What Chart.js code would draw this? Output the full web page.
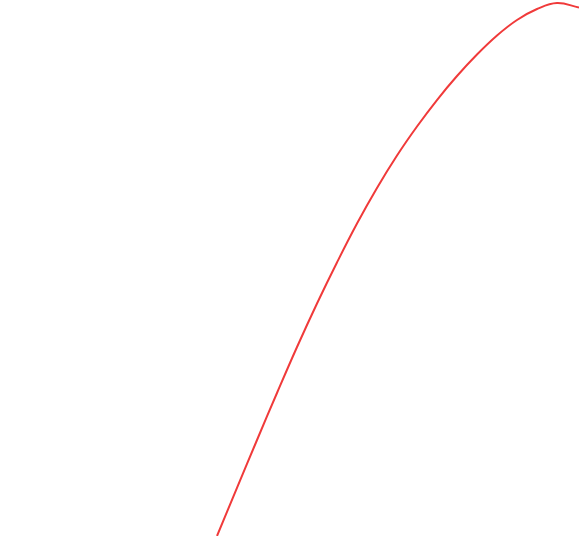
<!DOCTYPE html>
<html>
<head>
<meta charset="utf-8">
<script src="https://cdn.jsdelivr.net/npm/chart.js@4/dist/chart.umd.min.js"></script>
<style>
  html, body { margin: 0; padding: 0; background: #fff; }
  #wrap { width: 579px; height: 536px; }
</style>
</head>
<body>
<div id="wrap"><canvas id="myChart"></canvas></div>
<script>
    // values (axis range 0..100 on both axes)
    var xValues = [37.48, 40.93, 44.39, 47.84, 51.30, 54.75, 58.20, 61.66, 65.11, 68.57,
                   72.02, 75.47, 78.93, 82.38, 85.84, 89.29, 92.75, 96.20, 100];
    var yValues = [0, 8.96, 17.91, 26.68, 35.26, 43.38, 51.03, 58.30, 64.93, 70.99,
                   76.40, 81.34, 85.82, 89.83, 93.38, 96.27, 98.32, 99.44, 98.60];

    var points = xValues.map(function(x, i) {
        return { x: x, y: yValues[i] };
    });

    var ctx = document.getElementById('myChart').getContext('2d');
    var chart = new Chart(ctx, {
        type: 'line',
        data: {
            datasets: [{
                data: points,
                borderColor: 'rgb(240, 58, 58)',
                borderWidth: 2,
                pointRadius: 0,
                fill: false,
                tension: 0.4
            }]
        },
        options: {
            responsive: true,
            maintainAspectRatio: false,
            animation: false,
            layout: { padding: 0 },
            plugins: {
                legend: { display: false },
                tooltip: { enabled: false }
            },
            scales: {
                x: { type: 'linear', min: 0, max: 100, display: false },
                y: { type: 'linear', min: 0, max: 100, display: false }
            }
        }
    });
</script>
</body>
</html>
